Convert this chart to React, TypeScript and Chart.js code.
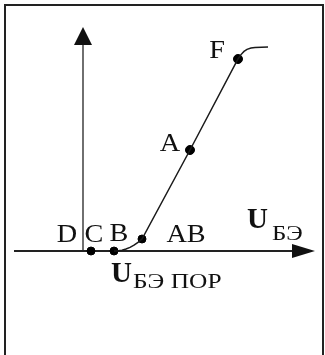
import React, { useEffect, useRef } from "react";
import { Chart, registerables } from "chart.js";

Chart.register(...registerables);

// Transfer characteristic curve (U_БЭ on the horizontal axis)
const curveX = [0.155, 0.175, 0.195, 0.215, 0.235, 0.255, 0.275, 0.295, 0.535, 0.775, 0.79, 0.805, 0.82, 0.84, 0.86, 0.925];
const curveY = [0, 0.001, 0.004, 0.01, 0.018, 0.029, 0.043, 0.06, 0.505, 0.96, 0.982, 0.998, 1.008, 1.015, 1.018, 1.02];

// Marked operating points
const pointNames = ["D", "C", "B", "AB", "A", "F"];
const pointX = [0, 0.04, 0.155, 0.295, 0.535, 0.775];
const pointY = [0, 0, 0, 0.06, 0.505, 0.96];

// Axis titles
const axisMain = "U";
const axisSub = "БЭ";
const thresholdSub = "БЭ ПОР";

const X_MIN = -0.415;
const X_MAX = 1.21;
const Y_MIN = -0.52;
const Y_MAX = 1.255;

const labelOffsets: Record<string, [number, number]> = {
  D: [-16, -9],
  C: [3, -9],
  B: [5, -10],
  AB: [44, 3],
  A: [-20, 1],
  F: [-21, -1],
};

const SERIF = '"Liberation Serif", "Times New Roman", serif';

function drawText(
  ctx: CanvasRenderingContext2D,
  text: string,
  x: number,
  y: number,
  font: string,
  sx: number,
  align: CanvasTextAlign
) {
  ctx.save();
  ctx.translate(x, y);
  ctx.scale(sx, 1);
  ctx.font = font;
  ctx.textAlign = align;
  ctx.textBaseline = "alphabetic";
  ctx.fillText(text, 0, 0);
  ctx.restore();
}

const diagramPlugin = {
  id: "diagram",
  beforeDatasetsDraw(chart: any) {
    const ctx = chart.ctx as CanvasRenderingContext2D;
    const xs = chart.scales.x;
    const ys = chart.scales.y;
    ctx.save();
    // frame
    ctx.strokeStyle = "#222";
    ctx.lineWidth = 2;
    ctx.strokeRect(5, 5, 318, 360);

    const ox = xs.getPixelForValue(0);
    const oy = ys.getPixelForValue(0);
    const xEnd = xs.getPixelForValue(1.16);
    const xStart = xs.getPixelForValue(-0.345);
    const yEnd = ys.getPixelForValue(1.12);

    ctx.strokeStyle = "#222";
    ctx.fillStyle = "#111";
    // horizontal axis
    ctx.lineWidth = 2;
    ctx.beginPath();
    ctx.moveTo(xStart, oy);
    ctx.lineTo(xEnd - 18, oy);
    ctx.stroke();
    ctx.beginPath();
    ctx.moveTo(xEnd, oy);
    ctx.lineTo(xEnd - 23, oy - 7);
    ctx.lineTo(xEnd - 23, oy + 7);
    ctx.closePath();
    ctx.fill();
    // vertical axis
    ctx.lineWidth = 1.3;
    ctx.beginPath();
    ctx.moveTo(ox, oy);
    ctx.lineTo(ox, yEnd + 15);
    ctx.stroke();
    ctx.beginPath();
    ctx.moveTo(ox, yEnd);
    ctx.lineTo(ox - 9, yEnd + 18);
    ctx.lineTo(ox + 9, yEnd + 18);
    ctx.closePath();
    ctx.fill();
    ctx.restore();
  },
  afterDatasetsDraw(chart: any) {
    const ctx = chart.ctx as CanvasRenderingContext2D;
    const xs = chart.scales.x;
    const ys = chart.scales.y;
    ctx.save();
    ctx.fillStyle = "#111";
    pointNames.forEach((name, i) => {
      const px = xs.getPixelForValue(pointX[i]);
      const py = ys.getPixelForValue(pointY[i]);
      const [dx, dy] = labelOffsets[name];
      drawText(ctx, name, px + dx, py + dy, `25px ${SERIF}`, 1.13, "center");
    });

    // axis title U_БЭ
    const ax = xs.getPixelForValue(0.82);
    const ay = ys.getPixelForValue(0);
    drawText(ctx, axisMain, ax, ay - 23, `bold 29px ${SERIF}`, 1, "left");
    drawText(ctx, axisSub, ax + 25, ay - 11, `20px ${SERIF}`, 1.25, "left");

    // threshold U_БЭ ПОР below point B
    const bx = xs.getPixelForValue(pointX[2]);
    drawText(ctx, axisMain, bx - 3, ay + 31, `bold 29px ${SERIF}`, 1, "left");
    drawText(ctx, thresholdSub, bx + 19, ay + 37, `20px ${SERIF}`, 1.27, "left");
    ctx.restore();
  },
};

export default function App() {
  const ref = useRef<HTMLCanvasElement | null>(null);
  useEffect(() => {
    document.body.style.margin = "0";
    document.body.style.background = "#fff";
    const canvas = ref.current;
    if (!canvas) return;
    const chart = new Chart(canvas, {
      type: "scatter",
      data: {
        datasets: [
          {
            data: curveX.map((x, i) => ({ x, y: curveY[i] })),
            showLine: true,
            borderColor: "#1a1a1a",
            borderWidth: 1.5,
            pointRadius: 0,
            tension: 0,
            clip: false,
          } as any,
          {
            data: pointX.map((x, i) => ({ x, y: pointY[i] })),
            showLine: false,
            backgroundColor: "#000",
            borderColor: "#000",
            pointRadius: pointNames.map((n) => (n === "D" ? 0 : n === "A" || n === "F" ? 4.5 : 4)),
            pointHoverRadius: 0,
            clip: false,
          } as any,
        ],
      },
      options: {
        animation: false,
        responsive: false,
        maintainAspectRatio: false,
        layout: { padding: 0, autoPadding: false },
        events: [],
        plugins: {
          legend: { display: false },
          tooltip: { enabled: false },
          title: { display: false },
        },
        scales: {
          x: { type: "linear", min: X_MIN, max: X_MAX, display: false },
          y: { type: "linear", min: Y_MIN, max: Y_MAX, display: false },
        },
      },
      plugins: [diagramPlugin],
    });
    return () => chart.destroy();
  }, []);
  return (
    <div style={{ width: 325, height: 355, background: "#fff" }}>
      <canvas ref={ref} width={325} height={355} style={{ display: "block" }} />
    </div>
  );
}
